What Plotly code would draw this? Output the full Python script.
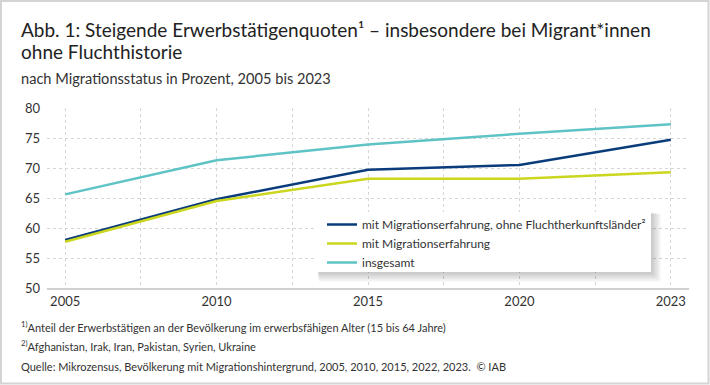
import plotly.graph_objects as go

years = ["2005", "2010", "2015", "2020", "2023"]
ohne_flucht = [58.0, 64.8, 69.7, 70.5, 74.7]
mit_migration = [57.7, 64.5, 68.2, 68.2, 69.3]
insgesamt = [65.6, 71.3, 73.9, 75.7, 77.3]

series_names = [
    "mit Migrationserfahrung, ohne Fluchtherkunftsländer²",
    "mit Migrationserfahrung",
    "insgesamt",
]
series_colors = ["#0a3c7c", "#cbd61e", "#5ec3c5"]

FONT = "Lato"
W, H = 710, 385
L, R, T, B = 47, 21, 108, 97
PW, PH = W - L - R, H - T - B

def px(x):
    return (x - L) / PW

def py(y):
    return (H - B - y) / PH

xpos = list(range(len(years)))

fig = go.Figure()
for name, vals, col in zip(series_names, [ohne_flucht, mit_migration, insgesamt], series_colors):
    fig.add_trace(go.Scatter(x=xpos, y=vals, mode="lines", name=name,
                             line=dict(color=col, width=2.5), hoverinfo="skip"))

fig.update_layout(
    width=W, height=H,
    margin=dict(l=L, r=R, t=T, b=B),
    paper_bgcolor="white", plot_bgcolor="white",
    font=dict(family=FONT, color="#333333"),
    showlegend=True,
    legend=dict(x=px(322), y=py(210), xanchor="left", yanchor="top",
                bgcolor="rgba(0,0,0,0)", borderwidth=0,
                font=dict(size=12, color="#333333", family=FONT),
                tracegroupgap=0, itemwidth=30),
    xaxis=dict(range=[-0.12, 4.12], tickmode="array", tickvals=xpos, ticktext=years,
               showgrid=True, gridcolor="#d6d6d6", griddash="dot", gridwidth=1,
               minor=dict(tickmode="linear", tick0=0, dtick=0.5, showgrid=True,
                          gridcolor="#d6d6d6", griddash="dot", gridwidth=1, ticks=""),
               showline=True, linecolor="#d0d0d0", linewidth=2,
               zeroline=False, ticks="", tickfont=dict(size=13, color="#333333")),
    yaxis=dict(range=[50, 80], dtick=5, showgrid=True, gridcolor="#d6d6d6",
               griddash="dot", gridwidth=1, zeroline=False, ticks="",
               ticklabelstandoff=6, tickfont=dict(size=13, color="#333333")),
)

# legend box with soft shadow
for k in range(1, 8):
    fig.add_shape(type="rect", xref="paper", yref="paper",
                  x0=px(317 + k * 0.3), x1=px(651 + k * 1.4),
                  y0=py(272 + k * 1.4), y1=py(212 + k * 0.3),
                  fillcolor="black", opacity=0.03, line=dict(width=0), layer="above")
fig.add_shape(type="rect", xref="paper", yref="paper",
              x0=px(317), x1=px(651), y0=py(272), y1=py(212),
              fillcolor="white", line=dict(width=0), layer="above")

# outer border
fig.add_shape(type="rect", xref="paper", yref="paper",
              x0=px(1), x1=px(708.5), y0=py(383.5), y1=py(1),
              line=dict(color="#d4d4d4", width=2), fillcolor="rgba(0,0,0,0)")

texts = [
    ("Abb. 1: Steigende Erwerbstätigenquoten¹ – insbesondere bei Migrant*innen", 29, 19, "#222222"),
    ("ohne Fluchthistorie", 51, 19, "#222222"),
    ("nach Migrationsstatus in Prozent, 2005 bis 2023", 79, 14.6, "#333333"),
    ("<sup>1)</sup>Anteil der Erwerbstätigen an der Bevölkerung im erwerbsfähigen Alter (15 bis 64 Jahre)", 326, 11, "#333333"),
    ("<sup>2)</sup>Afghanistan, Irak, Iran, Pakistan, Syrien, Ukraine", 345, 11, "#333333"),
    ("Quelle: Mikrozensus, Bevölkerung mit Migrationshintergrund, 2005, 2010, 2015, 2022, 2023.  © IAB", 366, 11, "#333333"),
]
for t, y, s, c in texts:
    fig.add_annotation(text=t, xref="paper", yref="paper", x=px(19), y=py(y),
                       xanchor="left", yanchor="middle", showarrow=False,
                       font=dict(size=s, color=c, family=FONT))

fig.write_html("out.html", config={"displayModeBar": False},
               post_script="document.body.style.margin='0';document.body.style.padding='0';")
